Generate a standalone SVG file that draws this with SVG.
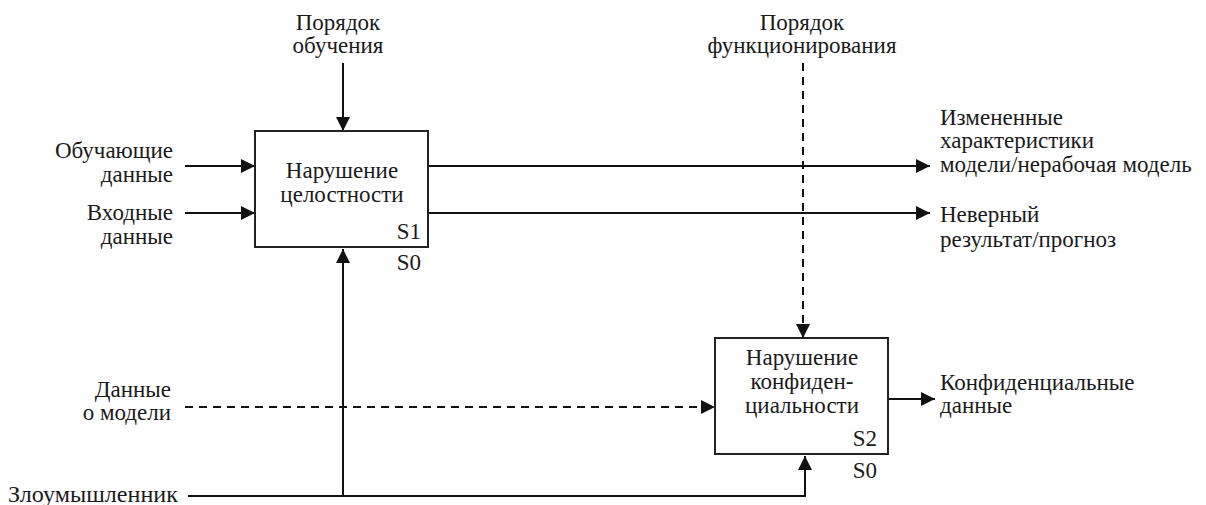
<svg xmlns="http://www.w3.org/2000/svg" width="1206" height="505" viewBox="0 0 1206 505">
<defs>
<marker id="ah" markerWidth="14" markerHeight="14" viewBox="0 0 14 14" refX="14" refY="7" orient="auto" markerUnits="userSpaceOnUse">
<path d="M0,0 L14,7 L0,14 Z" fill="#111"/>
</marker>
</defs>
<style>
text{font-family:"Liberation Serif","Times New Roman",serif;font-size:23px;fill:#1a1a1a}
.r{text-anchor:end}
.m{text-anchor:middle}
.box{fill:#fff;stroke:#222;stroke-width:2}
.ln{fill:none;stroke:#111;stroke-width:2}
.d{stroke-dasharray:8,6}
</style>
<rect width="1206" height="505" fill="#fff"/>
<g id="connectors">
<path class="ln" d="M343,63 V131" marker-end="url(#ah)"/>
<path class="ln" d="M185,166 H255" marker-end="url(#ah)"/>
<path class="ln" d="M185,213 H255" marker-end="url(#ah)"/>
<path class="ln" d="M428,166 H930" marker-end="url(#ah)"/>
<path class="ln" d="M428,213 H930" marker-end="url(#ah)"/>
<path class="ln d" d="M803,63 V338" marker-end="url(#ah)"/>
<path class="ln d" d="M185,407 H715" marker-end="url(#ah)"/>
<path class="ln" d="M888,399 H935" marker-end="url(#ah)"/>
<path class="ln" d="M188,496 H805 V456" marker-end="url(#ah)"/>
<path class="ln" d="M343,496 V249" marker-end="url(#ah)"/>
</g>
<g id="box1">
<rect class="box" x="255" y="131" width="173" height="116"/>
<text class="m" x="342" y="178">Нарушение</text>
<text class="m" x="342" y="202">целостности</text>
<text class="r" x="421" y="239">S1</text>
<text class="r" x="421" y="270">S0</text>
</g>
<g id="box2">
<rect class="box" x="715" y="338" width="173" height="116"/>
<text class="m" x="802" y="365">Нарушение</text>
<text class="m" x="802" y="389">конфиден-</text>
<text class="m" x="802" y="413">циальности</text>
<text class="r" x="877" y="446">S2</text>
<text class="r" x="877" y="478">S0</text>
</g>
<g id="labels">
<text class="m" x="338" y="30">Порядок</text>
<text class="m" x="338" y="53">обучения</text>
<text class="m" x="802" y="30">Порядок</text>
<text class="m" x="802" y="53">функционирования</text>
<text class="r" x="173" y="158">Обучающие</text>
<text class="r" x="173" y="182">данные</text>
<text class="r" x="173" y="220">Входные</text>
<text class="r" x="173" y="244">данные</text>
<text class="r" x="171" y="397">Данные</text>
<text class="r" x="171" y="420">о модели</text>
<text x="8" y="502" textLength="170" lengthAdjust="spacingAndGlyphs">Злоумышленник</text>
<text x="940" y="125">Измененные</text>
<text x="940" y="148">характеристики</text>
<text x="940" y="172">модели/нерабочая модель</text>
<text x="940" y="222">Неверный</text>
<text x="940" y="247">результат/прогноз</text>
<text x="940" y="390">Конфиденциальные</text>
<text x="940" y="413">данные</text>
</g>
</svg>
